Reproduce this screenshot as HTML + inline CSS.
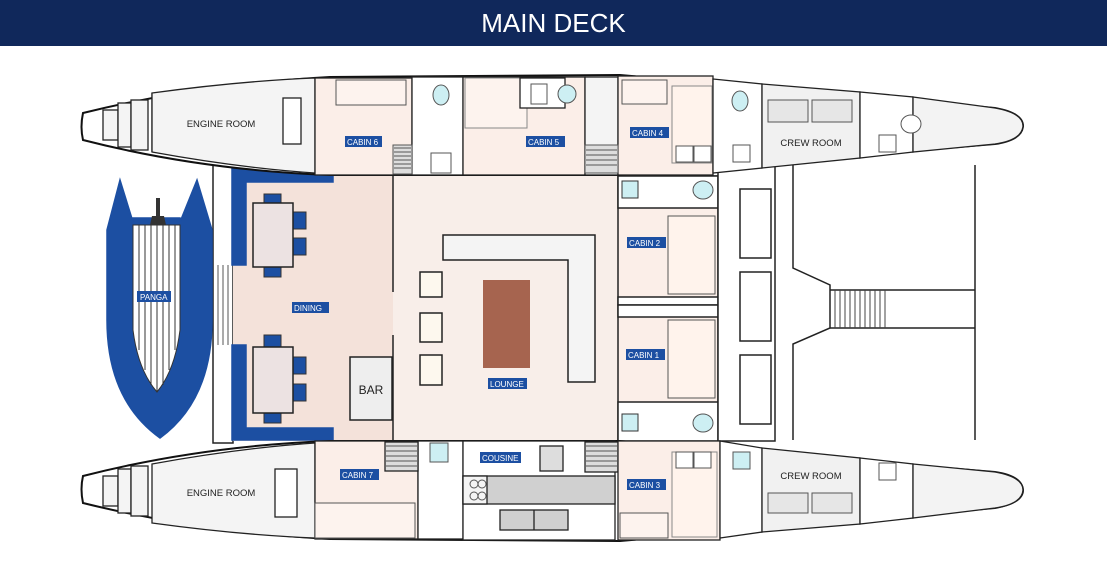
<!DOCTYPE html>
<html><head><meta charset="utf-8"><style>
html,body{margin:0;padding:0;background:#fff;width:1107px;height:565px;overflow:hidden}
.hdr{position:absolute;left:0;top:0;width:1107px;height:46px;background:#10285b;color:#fff;font:26px "Liberation Sans",sans-serif;text-align:center;line-height:46px}
svg{position:absolute;left:0;top:0}
text{font-family:"Liberation Sans",sans-serif}
</style></head><body>
<div class="hdr">MAIN DECK</div>
<svg width="1107" height="565" viewBox="0 0 1107 565">
<defs>
<g id="lbl"></g>
</defs>
<g stroke="#222" stroke-width="1.5" fill="none">
<!-- middle section -->
<rect x="213" y="165" width="20" height="278" fill="#fff"/>
<g stroke="#555" stroke-width="1"><line x1="218" y1="265" x2="218" y2="345"/><line x1="223" y1="265" x2="223" y2="345"/><line x1="228" y1="265" x2="228" y2="345"/></g>
<rect x="233" y="165" width="160" height="276" fill="#f4e2da" stroke="none"/>
<rect x="393" y="165" width="225" height="276" fill="#f8eee9" stroke="none"/>
<line x1="393" y1="175" x2="393" y2="292"/><line x1="393" y1="335" x2="393" y2="440"/>
<path d="M232 168 H333 V182 H246 V265 H232 Z" fill="#1c4fa2" stroke="#1c4fa2"/>
<path d="M232 440 H333 V428 H246 V345 H232 Z" fill="#1c4fa2" stroke="#1c4fa2"/>
<!-- tables -->
<g fill="#1c4fa2" stroke="#333" stroke-width="1">
<rect x="264" y="194" width="17" height="12"/><rect x="264" y="265" width="17" height="12"/>
<rect x="292" y="212" width="14" height="17"/><rect x="292" y="238" width="14" height="17"/>
<rect x="264" y="335" width="17" height="12"/><rect x="264" y="411" width="17" height="12"/>
<rect x="292" y="357" width="14" height="17"/><rect x="292" y="384" width="14" height="17"/>
</g>
<rect x="253" y="203" width="40" height="64" fill="#ece2e2"/>
<rect x="253" y="347" width="40" height="66" fill="#ece2e2"/>
<rect x="350" y="357" width="42" height="63" fill="#eeeeee"/>
<!-- lounge -->
<path d="M443 235 H595 V382 H568 V260 H443 Z" fill="#f4f4f4"/>
<rect x="483" y="280" width="47" height="88" fill="#a6644f" stroke="none"/>
<g fill="#fdf8ee"><path d="M420 272 H442 V297 H420 Z"/><path d="M420 313 H442 V342 H420 Z"/><path d="M420 355 H442 V385 H420 Z"/></g>
<!-- right cabins in middle -->
<rect x="618" y="176" width="100" height="265" fill="#fbeee8"/>
<rect x="618" y="176" width="100" height="32" fill="#fff"/>
<rect x="618" y="402" width="100" height="39" fill="#fff"/>
<rect x="618" y="297" width="100" height="8" fill="#fff"/><rect x="618" y="305" width="100" height="12" fill="#fff"/>
<rect x="668" y="216" width="47" height="78" fill="#fff3ec" stroke="#555" stroke-width="1"/>
<rect x="668" y="320" width="47" height="78" fill="#fff3ec" stroke="#555" stroke-width="1"/>
<rect x="718" y="165" width="57" height="276" fill="#fff"/>
<rect x="740" y="189" width="31" height="69"/><rect x="740" y="272" width="31" height="69"/><rect x="740" y="355" width="31" height="69"/>
<path d="M793 165 V268 L830 285 V328 L793 344 V440"/>
<line x1="975" y1="165" x2="975" y2="440"/>
<line x1="830" y1="290" x2="975" y2="290"/><line x1="830" y1="328" x2="975" y2="328"/>
<g stroke="#444" stroke-width="1"><path d="M835 290V328M840 290V328M845 290V328M850 290V328M855 290V328M860 290V328M865 290V328M870 290V328M875 290V328M880 290V328M885 290V328"/></g>
<!-- panga -->
<path d="M107 230 L120 180 L133 222 V218 H180 V222 L197 180 L212 230 V320 Q212 400 160 438 Q107 400 107 320 Z" fill="#1c4fa2" stroke="#1c4fa2"/>
<path d="M133 225 H180 V330 Q175 370 157 392 Q138 370 133 330 Z" fill="#fff" stroke="#333" stroke-width="1"/>
<g stroke="#333" stroke-width="1"><path d="M139 225V350M145 225V370M151 225V385M157 225V392M163 225V385M169 225V370M175 225V350"/></g>
<path d="M150 225 L152 216 H156 V198 H160 V216 H164 L166 225 Z" fill="#333" stroke="none"/>
<!-- hulls -->
<g id="hull">
<path d="M83 113 Q200 84 330 77 L620 75 L995 108 Q1023 113 1023 126 Q1022 140 995 144 L620 175 L330 175 Q200 170 83 140 Q80 127 83 113 Z" fill="#fff" stroke="#111" stroke-width="2"/>
</g>
<use href="#hull" transform="translate(0,616) scale(1,-1)"/>
</g>
<!-- top hull contents -->
<g stroke="#222" stroke-width="1.3">
<path d="M152 93 V152" fill="none"/>
<path d="M152 93 Q240 81 315 78 V173 Q240 168 152 152 Z" fill="#f4f4f4"/>
<rect x="103" y="110" width="15" height="30" fill="#f4f4f4"/><rect x="118" y="103" width="13" height="44" fill="#f4f4f4"/><rect x="131" y="100" width="17" height="50" fill="#f4f4f4"/>
<rect x="283" y="98" width="18" height="46" fill="#fff"/>
<rect x="315" y="78" width="97" height="97" fill="#fbeee8"/>
<rect x="412" y="77" width="51" height="98" fill="#fff"/>
<rect x="463" y="77" width="122" height="98" fill="#fbeee8"/>
<rect x="465" y="78" width="62" height="50" fill="#fdf3ee" stroke="#888" stroke-width="1"/>
<rect x="520" y="78" width="45" height="30" fill="#fff"/>
<rect x="585" y="77" width="33" height="98" fill="#f4f4f4"/>
<rect x="618" y="76" width="95" height="99" fill="#fbeee8"/>
<rect x="672" y="86" width="40" height="77" fill="#fff3ec" stroke="#888" stroke-width="1"/>
<path d="M713 79 L762 84 V168 L713 173 Z" fill="#fff"/>
<path d="M762 84 L860 92 V158 L762 168 Z" fill="#f1f1f1"/>
<path d="M860 92 L913 97 V152 L860 158 Z" fill="#fff"/>
<path d="M913 97 L995 108 Q1023 113 1023 126 Q1022 140 995 144 L913 152 Z" fill="#f3f3f3"/>
<g fill="#fff" stroke="#555" stroke-width="1">
<rect x="336" y="80" width="70" height="25" fill="#fdf3ee"/>
<rect x="393" y="145" width="19" height="29" fill="#ddd"/><rect x="585" y="145" width="33" height="28" fill="#ddd"/>
<rect x="676" y="146" width="17" height="16"/><rect x="694" y="146" width="17" height="16"/>
<rect x="768" y="100" width="40" height="22" fill="#e6e6e6"/><rect x="812" y="100" width="40" height="22" fill="#e6e6e6"/>
<rect x="431" y="153" width="20" height="20"/><rect x="531" y="84" width="16" height="20"/><rect x="733" y="145" width="17" height="17"/><rect x="879" y="135" width="17" height="17"/>
<rect x="622" y="80" width="45" height="24" fill="#fdf3ee"/>
</g>
<g fill="#cdeff3" stroke="#555" stroke-width="1">
<ellipse cx="441" cy="95" rx="8" ry="10"/><ellipse cx="567" cy="94" rx="9" ry="9"/><ellipse cx="740" cy="101" rx="8" ry="10"/><ellipse cx="911" cy="124" rx="10" ry="9" fill="#fff"/>
<ellipse cx="703" cy="190" rx="10" ry="9"/><ellipse cx="703" cy="423" rx="10" ry="9"/>
<ellipse cx="441" cy="521" rx="8" ry="10"/><ellipse cx="740" cy="511" rx="8" ry="10"/><ellipse cx="911" cy="492" rx="10" ry="9" fill="#fff"/>
</g>
<g fill="#cdeff3" stroke="#333" stroke-width="1"><rect x="622" y="181" width="16" height="17"/><rect x="622" y="414" width="16" height="17"/></g>
<g stroke="#555" stroke-width="1"><path d="M394 148H411M394 152H411M394 156H411M394 160H411M394 164H411M394 168H411M586 150H617M586 155H617M586 160H617M586 165H617"/></g>
</g>
<!-- bottom hull contents -->
<g stroke="#222" stroke-width="1.3">
<path d="M152 464 Q240 448 315 443 V538 Q240 535 152 523 Z" fill="#f4f4f4"/>
<rect x="103" y="476" width="15" height="30" fill="#f4f4f4"/><rect x="118" y="469" width="13" height="44" fill="#f4f4f4"/><rect x="131" y="466" width="17" height="50" fill="#f4f4f4"/>
<rect x="275" y="469" width="22" height="48" fill="#fff"/>
<rect x="315" y="441" width="103" height="98" fill="#fbeee8"/>
<rect x="418" y="441" width="45" height="98" fill="#fff"/>
<rect x="463" y="441" width="152" height="99" fill="#fff"/>
<rect x="463" y="476" width="152" height="28" fill="#d0d0d0"/>
<rect x="463" y="476" width="24" height="28" fill="#f4f4f4"/>
<rect x="500" y="510" width="68" height="20" fill="#d0d0d0"/><line x1="534" y1="510" x2="534" y2="530"/>
<rect x="540" y="446" width="23" height="25" fill="#ddd"/>
<rect x="385" y="442" width="33" height="29" fill="#ddd"/><rect x="585" y="442" width="33" height="30" fill="#ddd"/>
<rect x="618" y="441" width="102" height="99" fill="#fbeee8"/>
<rect x="672" y="452" width="45" height="85" fill="#fff3ec" stroke="#888" stroke-width="1"/>
<path d="M720 441 L762 448 V532 L720 538 Z" fill="#fff"/>
<path d="M762 448 L860 458 V524 L762 532 Z" fill="#f1f1f1"/>
<path d="M860 458 L913 464 V518 L860 524 Z" fill="#fff"/>
<path d="M913 464 L995 472 Q1023 477 1023 490 Q1022 504 995 508 L913 518 Z" fill="#f3f3f3"/>
<g fill="#fff" stroke="#555" stroke-width="1">
<rect x="430" y="443" width="18" height="19" fill="#cdeff3"/><rect x="733" y="452" width="17" height="17" fill="#cdeff3"/><rect x="879" y="463" width="17" height="17"/>
<rect x="768" y="493" width="40" height="20" fill="#e6e6e6"/><rect x="812" y="493" width="40" height="20" fill="#e6e6e6"/>
<rect x="676" y="452" width="17" height="16"/><rect x="694" y="452" width="17" height="16"/>
<rect x="620" y="513" width="48" height="25" fill="#fdf3ee"/><rect x="315" y="503" width="100" height="35" fill="#fdf3ee"/>
</g>
<g stroke="#555" stroke-width="1"><path d="M386 446H417M386 451H417M386 456H417M386 461H417M386 466H417M586 446H617M586 451H617M586 456H617M586 461H617M586 466H617"/></g>
<g fill="none" stroke="#555" stroke-width="1"><circle cx="474" cy="484" r="4"/><circle cx="482" cy="484" r="4"/><circle cx="474" cy="496" r="4"/><circle cx="482" cy="496" r="4"/></g>
</g>
<!-- text -->
<g font-size="9.5" fill="#222" text-anchor="middle">
<text x="221" y="127">ENGINE ROOM</text>
<text x="221" y="496">ENGINE ROOM</text>
<text x="811" y="146">CREW ROOM</text>
<text x="811" y="479">CREW ROOM</text>
<text x="371" y="394" font-size="12">BAR</text>
</g>
<g font-size="8" fill="#fff">
<rect x="345" y="136" width="37" height="11" fill="#1c4fa2"/><text x="347" y="145">CABIN 6</text>
<rect x="526" y="136" width="39" height="11" fill="#1c4fa2"/><text x="528" y="145">CABIN 5</text>
<rect x="630" y="127" width="39" height="11" fill="#1c4fa2"/><text x="632" y="136">CABIN 4</text>
<rect x="627" y="237" width="39" height="11" fill="#1c4fa2"/><text x="629" y="246">CABIN 2</text>
<rect x="626" y="349" width="39" height="11" fill="#1c4fa2"/><text x="628" y="358">CABIN 1</text>
<rect x="627" y="479" width="39" height="11" fill="#1c4fa2"/><text x="629" y="488">CABIN 3</text>
<rect x="340" y="469" width="39" height="11" fill="#1c4fa2"/><text x="342" y="478">CABIN 7</text>
<rect x="480" y="452" width="41" height="11" fill="#1c4fa2"/><text x="482" y="461">COUSINE</text>
<rect x="292" y="302" width="37" height="11" fill="#1c4fa2"/><text x="294" y="311">DINING</text>
<rect x="137" y="291" width="34" height="11" fill="#1c4fa2"/><text x="140" y="300">PANGA</text>
<rect x="488" y="378" width="39" height="11" fill="#1c4fa2"/><text x="490" y="387">LOUNGE</text>
</g>
</svg>
</body></html>
